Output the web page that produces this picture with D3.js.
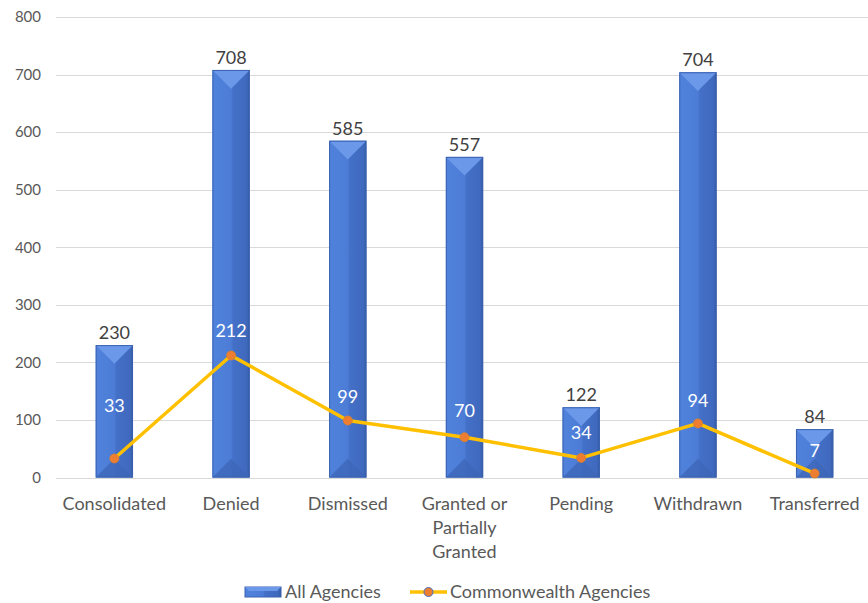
<!DOCTYPE html>
<html>
<head>
<meta charset="utf-8">
<script src="https://cdn.jsdelivr.net/npm/d3@7"></script>
<style>
  body { margin: 0; background: #fff; }
  svg { display: block; font-family: Lato, "Open Sans", sans-serif; }
</style>
</head>
<body>
<svg id="chart" width="868" height="603"></svg>
<script>
const categories = ['Consolidated', 'Denied', 'Dismissed', 'Granted or Partially Granted', 'Pending', 'Withdrawn', 'Transferred'];
const allAgencies = [230, 708, 585, 557, 122, 704, 84];
const commonwealth = [33, 212, 99, 70, 34, 94, 7];
const yTicks = [0, 100, 200, 300, 400, 500, 600, 700, 800];
const seriesNames = ['All Agencies', 'Commonwealth Agencies'];

const svg = d3.select('#chart');
const margin = { left: 56, right: 0, top: 17, bottom: 125 };
const W = 868, H = 603;

// band range runs a little past the right edge, as the plot is clipped there
const x = d3.scaleBand()
  .domain(categories)
  .range([56, 873])
  .paddingInner(0.68)
  .paddingOuter(0.34);

const y = d3.scaleLinear()
  .domain([0, 800])
  .range([H - margin.bottom - 0.5, margin.top]);

// gradient for bar body
const defs = svg.append('defs');
const grad = defs.append('linearGradient').attr('id', 'barGrad')
  .attr('x1', 0).attr('x2', 1).attr('y1', 0).attr('y2', 0);
grad.append('stop').attr('offset', '0%').attr('stop-color', '#5082dc');
grad.append('stop').attr('offset', '50%').attr('stop-color', '#4c7cd6');
grad.append('stop').attr('offset', '55%').attr('stop-color', '#4470c8');
grad.append('stop').attr('offset', '92%').attr('stop-color', '#3f69bd');
grad.append('stop').attr('offset', '100%').attr('stop-color', '#34589f');

// gridlines
svg.append('g')
  .selectAll('line')
  .data(yTicks)
  .join('line')
  .attr('x1', margin.left)
  .attr('x2', W)
  .attr('y1', d => Math.round(y(d)) + 0.5)
  .attr('y2', d => Math.round(y(d)) + 0.5)
  .attr('stroke', '#d9d9d9')
  .attr('stroke-width', 1);

// y axis labels
svg.append('g')
  .selectAll('text')
  .data(yTicks)
  .join('text')
  .attr('x', 41)
  .attr('y', d => y(d))
  .attr('dy', '0.35em')
  .attr('text-anchor', 'end')
  .attr('fill', '#595959')
  .attr('font-size', 15)
  .text(d => d);

// bars
const bw = x.bandwidth();
const bars = svg.append('g')
  .selectAll('g')
  .data(allAgencies)
  .join('g');

bars.each(function(v, i) {
  const g = d3.select(this);
  const x0 = x(categories[i]), x1 = x0 + bw, xc = x0 + bw / 2;
  const yt = y(v), yb = y(0);
  const h = yb - yt;
  const t = Math.min(bw / 2, h / 2);

  g.append('rect')
    .attr('x', x0).attr('y', yt)
    .attr('width', bw).attr('height', h)
    .attr('fill', 'url(#barGrad)');

  // top bevel
  g.append('path')
    .attr('d', 'M' + [x0, yt] + 'L' + [x1, yt] + 'L' + [xc, yt + t] + 'Z')
    .attr('fill', '#6b98e8');
  // bottom bevel
  g.append('path')
    .attr('d', 'M' + [x0, yb] + 'L' + [x1, yb] + 'L' + [xc, yb - t] + 'Z')
    .attr('fill', '#3d66b8')
    .attr('opacity', 0.8);

  g.append('rect')
    .attr('x', x0 + 0.5).attr('y', yt + 0.5)
    .attr('width', bw - 1).attr('height', h - 1)
    .attr('fill', 'none')
    .attr('stroke', '#3a62b0')
    .attr('stroke-width', 1);
});

// bar value labels
svg.append('g')
  .selectAll('text')
  .data(allAgencies)
  .join('text')
  .attr('x', (d, i) => x(categories[i]) + bw / 2)
  .attr('y', d => y(d) - 6)
  .attr('text-anchor', 'middle')
  .attr('fill', '#404040')
  .attr('font-size', 18)
  .text(d => d);

// line series
const cx = i => x(categories[i]) + bw / 2;
const line = d3.line()
  .x((d, i) => cx(i))
  .y(d => y(d));

svg.append('path')
  .datum(commonwealth)
  .attr('d', line)
  .attr('fill', 'none')
  .attr('stroke', '#ffc000')
  .attr('stroke-width', 3.5)
  .attr('stroke-linejoin', 'round');

svg.append('g')
  .selectAll('circle')
  .data(commonwealth)
  .join('circle')
  .attr('cx', (d, i) => cx(i))
  .attr('cy', d => y(d))
  .attr('r', 4.5)
  .attr('fill', '#ed7d31')
  .attr('stroke', '#d9822b')
  .attr('stroke-width', 0.8);

// line value labels (first one was nudged upward in the original)
const labelLift = [53, 25, 24, 27, 25, 23, 23];
svg.append('g')
  .selectAll('text')
  .data(commonwealth)
  .join('text')
  .attr('x', (d, i) => cx(i))
  .attr('y', (d, i) => y(d) - labelLift[i])
  .attr('dy', '0.35em')
  .attr('text-anchor', 'middle')
  .attr('fill', '#ffffff')
  .attr('font-size', 18)
  .text(d => d);

// category labels
const catLines = {
  'Granted or Partially Granted': ['Granted or', 'Partially', 'Granted']
};
const catG = svg.append('g');
categories.forEach((c, i) => {
  const lines = catLines[c] || [c];
  const tx = catG.append('text')
    .attr('x', cx(i))
    .attr('y', 504)
    .attr('text-anchor', 'middle')
    .attr('fill', '#595959')
    .attr('font-size', 18);
  lines.forEach((l, k) => {
    tx.append('tspan')
      .attr('x', cx(i))
      .attr('dy', k === 0 ? '0.35em' : 24)
      .text(l);
  });
});

// legend
const lg = svg.append('g');
lg.append('rect')
  .attr('x', 245).attr('y', 587).attr('width', 36).attr('height', 10)
  .attr('fill', 'url(#barGrad)').attr('stroke', '#3a62b0');
lg.append('path')
  .attr('d', 'M245,587L281,587L277,591L249,591Z')
  .attr('fill', '#6b98e8');
lg.append('text')
  .attr('x', 285).attr('y', 592).attr('dy', '0.35em')
  .attr('fill', '#595959').attr('font-size', 18)
  .text(seriesNames[0]);

lg.append('line')
  .attr('x1', 410).attr('x2', 447).attr('y1', 592).attr('y2', 592)
  .attr('stroke', '#ffc000').attr('stroke-width', 3.5);
lg.append('circle')
  .attr('cx', 428.5).attr('cy', 592).attr('r', 4.5)
  .attr('fill', '#ed7d31').attr('stroke', '#4472c4').attr('stroke-width', 1);
lg.append('text')
  .attr('x', 450).attr('y', 592).attr('dy', '0.35em')
  .attr('fill', '#595959').attr('font-size', 18)
  .text(seriesNames[1]);
</script>
</body>
</html>
